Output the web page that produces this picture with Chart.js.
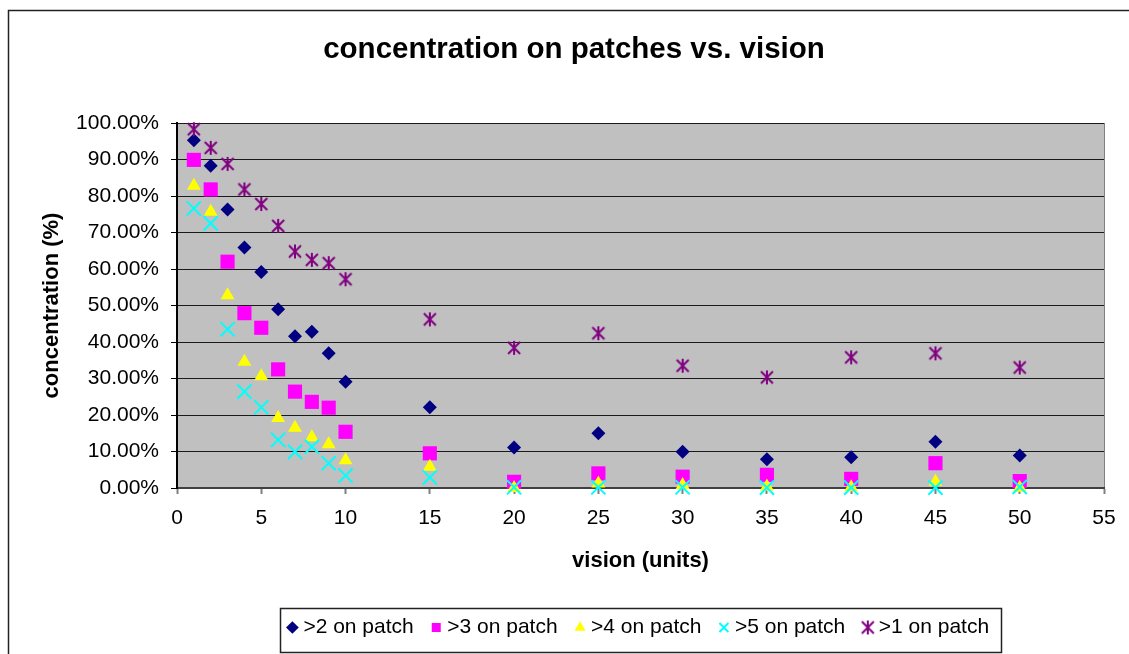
<!DOCTYPE html>
<html>
<head>
<meta charset="utf-8">
<title>concentration on patches vs. vision</title>
<script src="https://cdn.jsdelivr.net/npm/chart.js@4.4.1/dist/chart.umd.min.js"></script>
<style>
  html, body { margin: 0; padding: 0; background: #fff; overflow: hidden; }
  #wrap { position: relative; width: 1129px; height: 654px; }
</style>
</head>
<body>
<div id="wrap"><canvas id="chart"></canvas></div>
<script>
// x values (vision, units)
const vision = [1, 2, 3, 4, 5, 6, 7, 8, 9, 10, 15, 20, 25, 30, 35, 40, 45, 50];

// concentration (%) for each series
const over2 = [95.3, 88.3, 76.3, 65.9, 59.2, 49.0, 41.6, 42.8, 36.9, 29.1, 22.1, 11.1, 15.0, 9.9, 7.9, 8.4, 12.7, 8.9];
const over3 = [89.9, 81.8, 62.0, 47.9, 43.9, 32.5, 26.4, 23.6, 22.0, 15.4, 9.5, 1.7, 4.0, 3.1, 3.6, 2.5, 6.8, 1.9];
const over4 = [82.8, 75.7, 52.8, 34.6, 30.6, 19.2, 16.5, 13.9, 12.0, 7.6, 5.8, 0.0, 1.2, 0.8, 0.4, 0.2, 1.7, 0.1];
const over5 = [76.6, 72.5, 43.5, 26.4, 22.1, 13.2, 9.9, 11.3, 6.8, 3.4, 2.9, 0.2, 0.2, 0.2, 0.1, 0.1, 0.1, 0.3];
const over1 = [98.3, 93.2, 88.8, 81.8, 77.8, 71.8, 64.8, 62.5, 61.6, 57.2, 46.2, 38.4, 42.4, 33.5, 30.3, 35.8, 36.9, 33.0];

const seriesNames = ['>2 on patch', '>3 on patch', '>4 on patch', '>5 on patch', '>1 on patch'];
const seriesValues = [over2, over3, over4, over5, over1];

// axis ticks
const xTicks = [0, 5, 10, 15, 20, 25, 30, 35, 40, 45, 50, 55];
const yTicks = [0, 10, 20, 30, 40, 50, 60, 70, 80, 90, 100];

const FONT = "'Liberation Sans', Arial, sans-serif";

//asterisk marker (vertical bar + x) like the old excel one
const makeStar = (size, color) => {
  const c = document.createElement('canvas');
  c.width = size + 2;
  c.height = size + 2;
  const g = c.getContext('2d');
  g.strokeStyle = color;
  g.lineWidth = 2;
  const a = 1, b = size + 1, m = c.width / 2;
  g.beginPath();
  g.moveTo(m, a); g.lineTo(m, b);
  g.moveTo(a + 1, a + 1); g.lineTo(b - 1, b - 1);
  g.moveTo(b - 1, a + 1); g.lineTo(a + 1, b - 1);
  g.stroke();
  return c;
};

const styles = [
  { color: '#000080', pointStyle: 'rectRot', radius: 7, border: 0 },
  { color: '#FF00FF', pointStyle: 'rect', radius: 10, border: 0 },
  { color: '#FFFF00', pointStyle: 'triangle', radius: 8, border: 0 },
  { color: '#00FFFF', pointStyle: 'crossRot', radius: 10, border: 2 },
  { color: '#800080', pointStyle: makeStar(14, '#800080'), radius: 7, border: 0 }
];

const datasets = seriesNames.map((name, i) => ({
  label: name,
  data: vision.map((v, j) => ({ x: v, y: seriesValues[i][j] })),
  pointStyle: styles[i].pointStyle,
  pointRadius: styles[i].radius,
  pointHoverRadius: styles[i].radius,
  backgroundColor: styles[i].color,
  borderColor: styles[i].color,
  borderWidth: styles[i].border,
  showLine: false,
  clip: false,
  //later series drawn on top, like excel
  order: seriesNames.length - 1 - i
}));

//grey plot area, outer frame and the boxed legend
const framePlugin = {
  id: 'frame',
  afterLayout(chart) {
    //the excel title sits centred on the outer frame, a bit right of the canvas centre
    if (chart.titleBlock) {
      chart.titleBlock.left += 22;
      chart.titleBlock.right += 22;
    }
  },
  beforeDraw(chart) {
    const { ctx, chartArea: a } = chart;
    ctx.save();
    ctx.fillStyle = '#fff';
    ctx.fillRect(0, 0, chart.width, chart.height);
    ctx.strokeStyle = '#222';
    ctx.lineWidth = 1.5;
    ctx.beginPath();
    ctx.moveTo(8.5, chart.height + 5);
    ctx.lineTo(8.5, 10.5);
    ctx.lineTo(chart.width + 5, 10.5);
    ctx.stroke();
    ctx.fillStyle = '#C0C0C0';
    ctx.fillRect(a.left, a.top, a.right - a.left, a.bottom - a.top);
    ctx.strokeStyle = '#808080';
    ctx.lineWidth = 1;
    ctx.beginPath();
    ctx.moveTo(a.right + 0.5, a.top);
    ctx.lineTo(a.right + 0.5, a.bottom);
    ctx.stroke();
    ctx.restore();
  },
  afterDraw(chart) {
    const hb = chart.legend && chart.legend.legendHitBoxes;
    if (!hb || !hb.length) return;
    const first = hb[0], last = hb[hb.length - 1];
    const cy = first.top + first.height / 2;
    const ctx = chart.ctx;
    ctx.save();
    ctx.strokeStyle = '#222';
    ctx.lineWidth = 1.5;
    const l = Math.round(first.left - 12) + 0.5;
    const r = Math.round(last.left + last.width + 12) + 0.5;
    ctx.strokeRect(l, Math.round(cy - 20) + 0.5, r - l, 44);
    ctx.restore();
  }
};

new Chart(document.getElementById('chart'), {
  type: 'scatter',
  data: { datasets },
  plugins: [framePlugin],
  options: {
    responsive: true,
    maintainAspectRatio: false,
    animation: false,
    layout: { padding: { left: 0, right: 25, top: 0, bottom: 6 } },
    plugins: {
      title: {
        display: true,
        text: 'concentration on patches vs. vision',
        color: '#000',
        font: { family: FONT, size: 29.5, weight: 'bold' },
        padding: { top: 32, bottom: 55.6 }
      },
      legend: {
        display: true,
        position: 'bottom',
        fullSize: false,
        labels: {
          usePointStyle: true,
          boxWidth: 1,
          boxHeight: 9,
          padding: 22,
          color: '#000',
          font: { family: FONT, size: 21 },
          sort: (a, b) => a.datasetIndex - b.datasetIndex
        }
      },
      tooltip: { enabled: false }
    },
    scales: {
      x: {
        type: 'linear',
        min: 0,
        max: 55,
        afterBuildTicks: (scale) => { scale.ticks = xTicks.map(v => ({ value: v })); },
        afterFit: (scale) => { scale.height = 107; },
        grid: { drawOnChartArea: false, drawTicks: true, tickLength: 6, tickColor: '#808080', tickWidth: 2 },
        border: { color: '#404040', width: 2 },
        ticks: { color: '#000', padding: 12, maxRotation: 0, font: { family: FONT, size: 21 } },
        title: {
          display: true,
          text: 'vision (units)',
          color: '#000',
          font: { family: FONT, size: 22, weight: 'bold' },
          padding: { top: 0, bottom: 21 }
        }
      },
      y: {
        type: 'linear',
        min: 0,
        max: 100,
        afterBuildTicks: (scale) => { scale.ticks = yTicks.map(v => ({ value: v })); },
        afterFit: (scale) => { scale.width = 177; },
        grid: { color: '#1a1a1a', lineWidth: 1, tickLength: 6, tickColor: '#000' },
        border: { color: '#000', width: 2 },
        ticks: {
          color: '#000',
          padding: 12,
          font: { family: FONT, size: 21 },
          callback: (v) => v.toFixed(2) + '%'
        },
        title: {
          display: true,
          text: 'concentration (%)',
          color: '#000',
          font: { family: FONT, size: 22, weight: 'bold' },
          padding: { top: 39, bottom: 0 }
        }
      }
    }
  }
});
</script>
</body>
</html>
